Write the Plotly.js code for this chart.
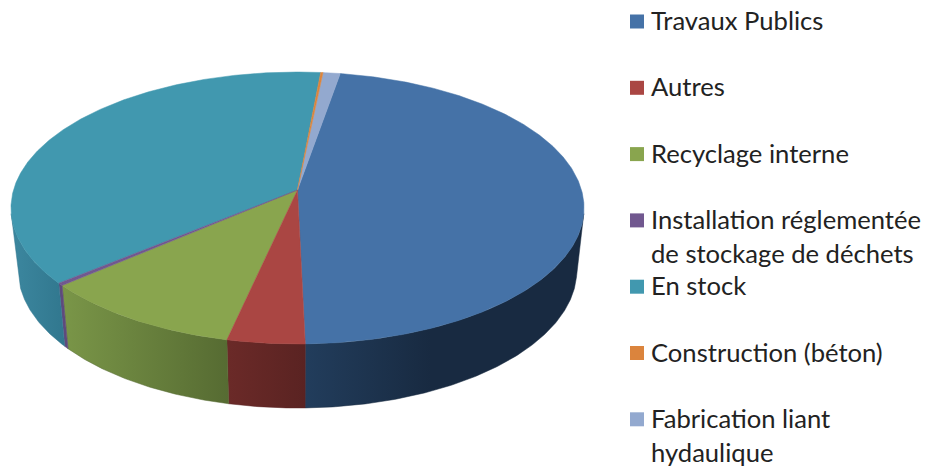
<!DOCTYPE html>
<html>
<head>
<meta charset="utf-8">
<script src="https://cdn.plot.ly/plotly-3.0.1.min.js"></script>
<style>html,body{margin:0;padding:0;background:#fff}#chart{width:928px;height:467px}.annotation-text{font-variant-ligatures:none}</style>
</head>
<body>
<div id="chart"></div>
<script>
// Data (percent of total, clockwise from the start angle)
const categories = ['Travaux Publics','Autres','Recyclage interne','Installation réglementée de stockage de déchets','En stock','Construction (béton)','Fabrication liant hydaulique'];
const values = [46.9, 3.85, 10.2, 0.3, 37.5, 0.15, 1.1];
const labelLines = [['Travaux Publics'],['Autres'],['Recyclage interne'],['Installation réglementée','de stockage de déchets'],['En stock'],['Construction (béton)'],['Fabrication liant','hydaulique']];
const topColors = ['#4572A7','#AA4643','#89A54E','#71588F','#4198AF','#DB843D','#93A9CF'];
const sideLeftColors = ['#223D5C','#6B2A28','#7A9648','#5F4A7C','#3C879F','#B06A30','#7688A8'];
const sideRightColors = ['#182A41','#5A2322','#566B32','#5F4A7C','#31778E','#B06A30','#7688A8'];
const startAngle = 9.8;

// Perspective model of the disc, in page pixels
const cx = 297.5, cy = 190, A = 284, B = 133.6, k = 0.1325;
const ellipseMidY = 208, lowerMidY = 270, lowerScaleX = 0.975, lowerScaleY = 1.0147;
const rad = d => d * Math.PI / 180;
function topPt(deg){
  const u = Math.sin(rad(deg)), v = -Math.cos(rad(deg)), w = 1 - k * v;
  return [cx + A * u / w, cy + B * v / w];
}
function lowPt(deg){
  const p = topPt(deg);
  return [cx + lowerScaleX * (p[0] - cx), lowerMidY + lowerScaleY * (p[1] - ellipseMidY)];
}
function arc(fn, a, b){
  const n = Math.max(2, Math.ceil(Math.abs(b - a) * 2) + 1), out = [];
  for (let i = 0; i < n; i++) out.push(fn(a + (b - a) * i / (n - 1)));
  return out;
}

const total = values.reduce((s, v) => s + v, 0);
let cursor = startAngle;
const spans = values.map(v => { const a = cursor; cursor += v / total * 360; return [a, cursor]; });

const traces = [];
// Side wall pieces: the rim runs between the two silhouette angles, so the strip never folds over itself
const rimFrom = 100, rimTo = 260;
spans.forEach((s, i) => {
  const a = Math.max(s[0], rimFrom), b = Math.min(s[1], rimTo);
  if (b <= a) return;
  const pts = arc(topPt, a, b).concat(arc(lowPt, b, a));
  pts.push(pts[0]);
  traces.push({
    x: pts.map(p => p[0]), y: pts.map(p => p[1]), mode: 'lines', fill: 'toself',
    line: {width: 0.5, color: sideRightColors[i]},
    fillgradient: {type: 'horizontal', colorscale: [[0, sideLeftColors[i]], [i === 0 ? 0.45 : 1, sideRightColors[i]], [1, sideRightColors[i]]]},
    hoverinfo: 'skip', showlegend: false
  });
});
// Top faces, widest first so thin slices stay visible
const order = values.map((v, i) => i).sort((p, q) => values[q] - values[p]);
order.forEach(i => {
  const pts = [[cx, cy]].concat(arc(topPt, spans[i][0], spans[i][1]));
  pts.push([cx, cy]);
  traces.push({
    x: pts.map(p => p[0]), y: pts.map(p => p[1]), mode: 'lines', fill: 'toself',
    fillcolor: topColors[i], line: {width: 0.5, color: topColors[i]},
    name: categories[i], text: values[i] + ' %', hoveron: 'fills', hoverinfo: 'name+text', showlegend: false
  });
});

// Legend, drawn with a fixed pitch like the reference
const legendX = 637, legendTextX = 651, legendTop = 21.5, legendPitch = 66.3, linePitch = 34;
traces.push({
  x: categories.map(() => legendX),
  y: categories.map((c, i) => legendTop + i * legendPitch),
  mode: 'markers', marker: {symbol: 'square', size: 14, color: topColors, line: {width: 0}},
  text: categories, hoverinfo: 'text', showlegend: false
});
const annotations = [];
labelLines.forEach((lines, i) => lines.forEach((t, j) => annotations.push({
  x: legendTextX, y: legendTop + i * legendPitch + j * linePitch, xref: 'x', yref: 'y',
  text: t, showarrow: false, xanchor: 'left', yanchor: 'middle', align: 'left',
  xshift: -1, yshift: 1.5, borderpad: 0, font: {family: 'Lato, Carlito, sans-serif', size: 25.6, color: '#222'}
})));

Plotly.newPlot('chart', traces, {
  width: 928, height: 467, margin: {l: 0, r: 0, t: 0, b: 0},
  paper_bgcolor: '#fff', plot_bgcolor: '#fff', showlegend: false,
  xaxis: {range: [0, 928], visible: false, fixedrange: true},
  yaxis: {range: [467, 0], visible: false, fixedrange: true},
  annotations
}, {displayModeBar: false, staticPlot: false});
</script>
</body>
</html>
